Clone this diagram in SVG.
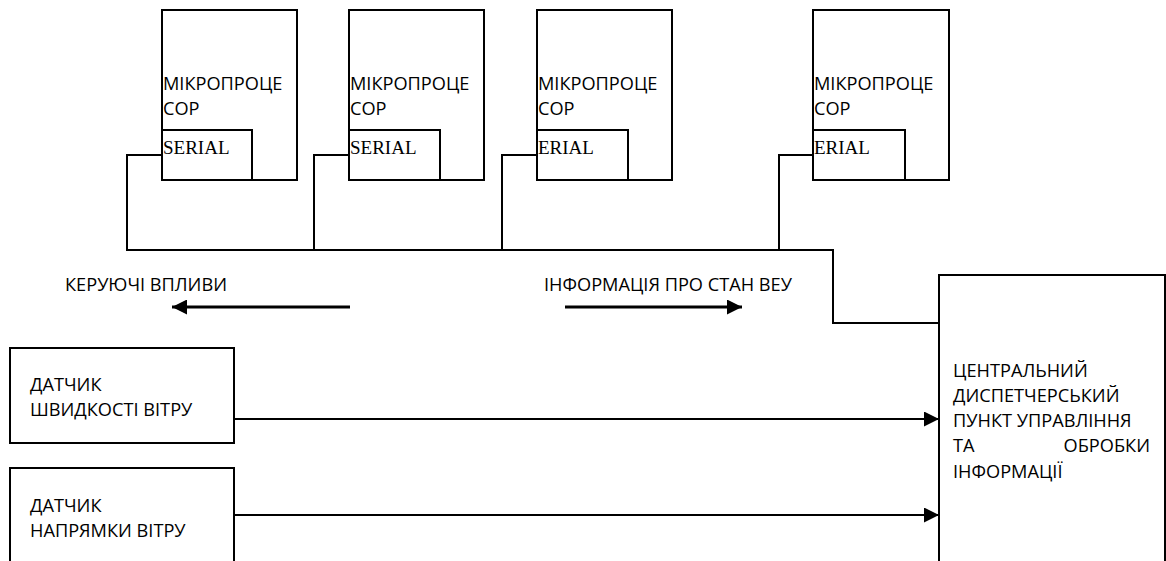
<svg xmlns="http://www.w3.org/2000/svg" width="1166" height="561" viewBox="0 0 1166 561">
<defs>
<style>
.box{fill:#fff;stroke:#000;stroke-width:2}
.ln{fill:none;stroke:#000;stroke-width:2}
.t{font-family:"Open Sans","Liberation Sans",sans-serif;font-size:18.2px;fill:#000}
.s{font-family:"Liberation Serif",serif;font-size:19px;fill:#000}
</style>
<marker id="ah" viewBox="0 0 10 10" refX="10" refY="5" markerWidth="15" markerHeight="15" markerUnits="userSpaceOnUse" orient="auto">
<path d="M0,0 L10,5 L0,10 Z" fill="#000"/>
</marker>
</defs>
<rect width="1166" height="561" fill="#fff"/>
<g id="mp1">
<rect class="box" x="162" y="10" width="135" height="170"/>
<rect class="box" x="162" y="130" width="90" height="50"/>
<text class="t" x="163" y="89.5">МІКРОПРОЦЕ</text>
<text class="t" x="163" y="114.5">СОР</text>
<text class="s" x="163" y="154">SERIAL</text>
</g>
<g id="mp2">
<rect class="box" x="349" y="10" width="135" height="170"/>
<rect class="box" x="349" y="130" width="91" height="50"/>
<text class="t" x="350" y="89.5">МІКРОПРОЦЕ</text>
<text class="t" x="350" y="114.5">СОР</text>
<text class="s" x="350" y="154">SERIAL</text>
</g>
<g id="mp3">
<rect class="box" x="537" y="10" width="135" height="170"/>
<rect class="box" x="537" y="130" width="91" height="50"/>
<text class="t" x="538" y="89.5">МІКРОПРОЦЕ</text>
<text class="t" x="538" y="114.5">СОР</text>
<text class="s" x="538" y="154">ERIAL</text>
</g>
<g id="mp4">
<rect class="box" x="813" y="10" width="136" height="170"/>
<rect class="box" x="813" y="130" width="92" height="50"/>
<text class="t" x="814" y="89.5">МІКРОПРОЦЕ</text>
<text class="t" x="814" y="114.5">СОР</text>
<text class="s" x="814" y="154">ERIAL</text>
</g>
<g id="sensor1">
<rect class="box" x="10" y="348" width="224" height="95"/>
<text class="t" x="30" y="391">ДАТЧИК</text>
<text class="t" x="30" y="416">ШВИДКОСТІ ВІТРУ</text>
</g>
<g id="sensor2">
<rect class="box" x="10" y="468" width="224" height="110"/>
<text class="t" x="30" y="512">ДАТЧИК</text>
<text class="t" x="30" y="537">НАПРЯМКИ ВІТРУ</text>
</g>
<g id="central">
<rect class="box" x="939" y="275" width="226" height="300"/>
<text class="t" x="953" y="377">ЦЕНТРАЛЬНИЙ</text>
<text class="t" x="953" y="402">ДИСПЕТЧЕРСЬКИЙ</text>
<text class="t" x="953" y="427">ПУНКТ УПРАВЛІННЯ</text>
<text class="t" x="953" y="452">ТА</text>
<text class="t" x="1150" y="452" text-anchor="end">ОБРОБКИ</text>
<text class="t" x="953" y="478">ІНФОРМАЦІЇ</text>
</g>
<g id="labels">
<text class="t" x="65" y="291">КЕРУЮЧІ ВПЛИВИ</text>
<text class="t" x="544" y="291">ІНФОРМАЦІЯ ПРО СТАН ВЕУ</text>
</g>
<g id="connectors">
<path class="ln" d="M162,155 H127 V250 H833 V323 H939"/>
<path class="ln" d="M349,155 H314 V250"/>
<path class="ln" d="M537,155 H502 V250"/>
<path class="ln" d="M813,155 H779 V250"/>
<line class="ln" x1="234" y1="419" x2="939" y2="419" marker-end="url(#ah)"/>
<line class="ln" x1="234" y1="515" x2="939" y2="515" marker-end="url(#ah)"/>
<line x1="350" y1="307" x2="172" y2="307" stroke="#000" stroke-width="3" marker-end="url(#ah)"/>
<line x1="565" y1="307" x2="742" y2="307" stroke="#000" stroke-width="3" marker-end="url(#ah)"/>
</g>
</svg>
